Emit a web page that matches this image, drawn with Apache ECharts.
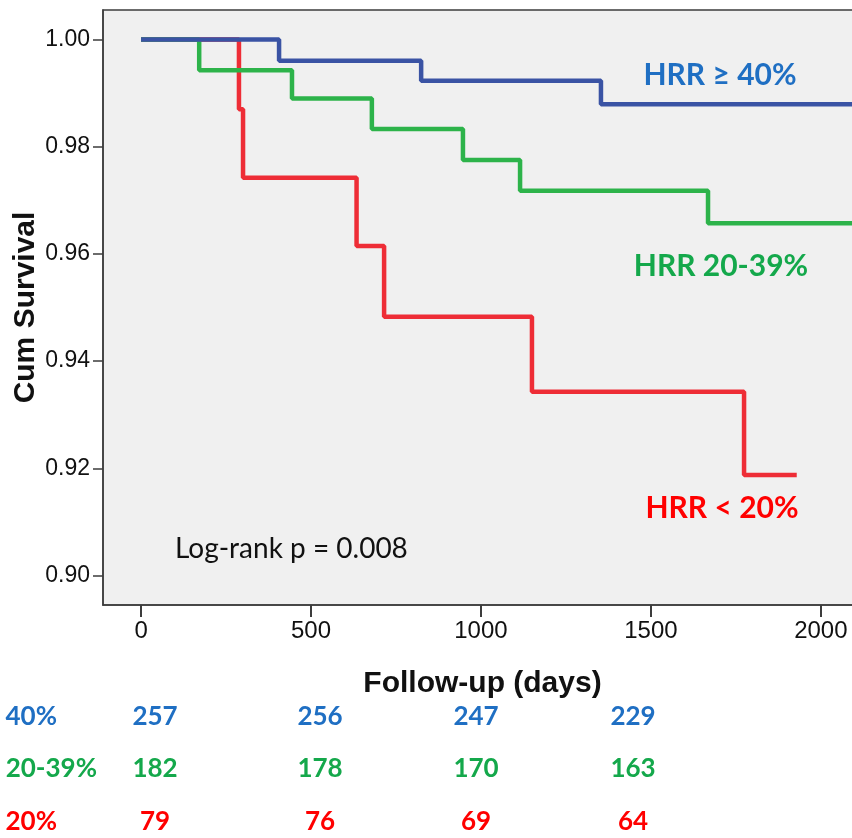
<!DOCTYPE html>
<html>
<head>
<meta charset="utf-8">
<script src="https://cdn.jsdelivr.net/npm/echarts@6.0.0/dist/echarts.min.js"></script>
<style>
  html, body { margin: 0; padding: 0; background: #fff; }
  #chart { width: 852px; height: 838px; }
</style>
</head>
<body>
<div id="chart"></div>
<script>
// Kaplan-Meier steps: [day, cumulative survival]
const hrrHigh = [[0, 1.0], [406, 0.99601], [824, 0.99228], [1353, 0.98794], [2130, 0.98794]];
const hrrMid = [[0, 1.0], [171, 0.99428], [444, 0.9890], [679, 0.98328], [947, 0.9775],
                [1115, 0.97178], [1668, 0.9657], [2130, 0.9657]];
const hrrLow = [[0, 1.0], [288, 0.9870], [300, 0.9742], [634, 0.96147], [715, 0.94828],
                [1150, 0.9343], [1774, 0.91877], [1929, 0.91877]];

const xTicks = [0, 500, 1000, 1500, 2000];
const yTicks = [0.90, 0.92, 0.94, 0.96, 0.98, 1.00];

// numbers at risk
const riskLabels = ["HRR \u2265 40%", "HRR 20-39%", "HRR < 20%"];
const riskHigh = [257, 256, 247, 229];
const riskMid = [182, 178, 170, 163];
const riskLow = [79, 76, 69, 64];

const cBlueLine = "#3a53a4", cGreenLine = "#2db34a", cRedLine = "#ee2d36";
const cBlueTxt = "#1f6fc3", cGreenTxt = "#14a84b", cRedTxt = "#ff0000";

const chart = echarts.init(document.getElementById("chart"));

// posiciones de la tabla (pixeles)
const colX = [155, 320, 476, 633];
const rowY = [717, 769, 822];
const rowLabelX = [57, 97, 57];
const rowColors = [cBlueTxt, cGreenTxt, cRedTxt];
const rows = [riskHigh, riskMid, riskLow];

const graphics = [];
rows.forEach((vals, r) => {
  graphics.push({
    type: "text", x: rowLabelX[r], y: rowY[r],
    style: { text: riskLabels[r], fill: rowColors[r], font: "bold 26px Lato", align: "right", verticalAlign: "middle" }
  });
  vals.forEach((v, c) => {
    graphics.push({
      type: "text", x: colX[c], y: rowY[r],
      style: { text: String(v), fill: rowColors[r], font: "bold 26px Lato", align: "center", verticalAlign: "middle" }
    });
  });
});

// etiquetas dentro del grafico
graphics.push(
  { type: "text", x: 720, y: 75, style: { text: "HRR \u2265 40%", fill: cBlueTxt, font: "bold 30px Lato", align: "center", verticalAlign: "middle" } },
  { type: "text", x: 721, y: 266, style: { text: "HRR 20-39%", fill: cGreenTxt, font: "bold 30px Lato", align: "center", verticalAlign: "middle" } },
  { type: "text", x: 722, y: 508, style: { text: "HRR < 20%", fill: cRedTxt, font: "bold 30px Lato", align: "center", verticalAlign: "middle" } },
  { type: "text", x: 175, y: 549, style: { text: "Log-rank p = 0.008", fill: "#111", font: "28px Lato", align: "left", verticalAlign: "middle" } }
);

const axisFont = "Liberation Sans";
const frameColor = "#3c3c3c";

const option = {
  animation: false,
  backgroundColor: "#fff",
  grid: {
    left: 103, right: -10, top: 10, bottom: 233,
    outerBoundsMode: "none", containLabel: false,
    show: true, backgroundColor: "#f0f0f0",
    borderColor: frameColor, borderWidth: 1.5
  },
  xAxis: {
    type: "value", min: -112, max: 2121,
    axisLine: { show: true, onZero: false, lineStyle: { color: frameColor, width: 1.5 } },
    splitLine: { show: false },
    axisTick: { show: true, inside: false, customValues: xTicks, length: 12, lineStyle: { color: frameColor, width: 2 } },
    axisLabel: { customValues: xTicks, fontFamily: axisFont, fontSize: 24, color: "#111", margin: 14,
                 formatter: (v) => String(v) },
    name: "Follow-up (days)", nameLocation: "middle", nameGap: 64, nameMoveOverlap: false,
    nameTextStyle: { fontFamily: axisFont, fontWeight: "bold", fontSize: 30, color: "#111" }
  },
  yAxis: {
    type: "value", min: 0.8945, max: 1.0055,
    axisLine: { show: true, onZero: false, lineStyle: { color: frameColor, width: 1.5 } },
    splitLine: { show: false },
    axisTick: { show: true, inside: false, customValues: yTicks, length: 10, lineStyle: { color: frameColor, width: 1.5 } },
    axisLabel: { customValues: yTicks, fontFamily: axisFont, fontSize: 23, color: "#111", margin: 13,
                 formatter: (v) => v.toFixed(2) },
    name: "Cum Survival", nameLocation: "middle", nameRotate: 90, nameGap: 62, nameMoveOverlap: false,
    nameTextStyle: { fontFamily: axisFont, fontWeight: "bold", fontSize: 30, color: "#111" }
  },
  series: [
    { name: "HRR < 20%", type: "line", step: "end", data: hrrLow, showSymbol: false,
      lineStyle: { color: cRedLine, width: 4.5 } },
    { name: "HRR 20-39%", type: "line", step: "end", data: hrrMid, showSymbol: false,
      lineStyle: { color: cGreenLine, width: 4.5 } },
    { name: "HRR >= 40%", type: "line", step: "end", data: hrrHigh, showSymbol: false,
      lineStyle: { color: cBlueLine, width: 4.5 } }
  ],
  graphic: graphics
};

chart.setOption(option);
</script>
</body>
</html>
